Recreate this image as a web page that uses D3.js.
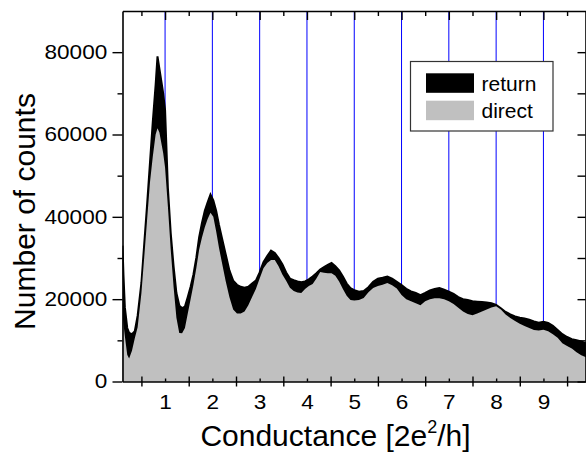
<!DOCTYPE html>
<html><head><meta charset="utf-8">
<script src="https://cdn.jsdelivr.net/npm/d3@7"></script>
<style>html,body{margin:0;padding:0;background:#fff;} svg{display:block;font-family:"Liberation Sans",Arial,sans-serif;}</style>
</head><body><svg id="c" width="586" height="454"></svg>
<script>
const conductance = [0.10,0.12,0.15,0.20,0.24,0.30,0.36,0.42,0.50,0.56,0.62,0.68,0.74,0.80,0.84,0.88,0.92,0.96,1.00,1.06,1.12,1.18,1.24,1.30,1.36,1.42,1.48,1.54,1.60,1.66,1.72,1.78,1.84,1.90,1.96,2.02,2.08,2.14,2.20,2.28,2.36,2.44,2.52,2.60,2.68,2.76,2.84,2.92,3.00,3.08,3.16,3.24,3.32,3.40,3.48,3.56,3.64,3.72,3.80,3.88,3.96,4.04,4.12,4.20,4.28,4.36,4.44,4.52,4.60,4.68,4.76,4.84,4.92,5.00,5.10,5.20,5.30,5.40,5.50,5.60,5.70,5.80,5.90,6.00,6.10,6.20,6.30,6.40,6.50,6.60,6.70,6.80,6.90,7.00,7.10,7.20,7.30,7.40,7.50,7.60,7.70,7.80,7.90,8.00,8.10,8.20,8.30,8.40,8.50,8.60,8.70,8.80,8.90,9.00,9.10,9.20,9.30,9.40,9.50,9.60,9.70,9.80,9.90];
const returnCounts = [33000,26000,18000,13000,11800,11500,12200,16000,24000,33500,43000,53000,63000,72000,79000,76000,73000,70000,66000,47000,36000,28000,21500,18500,17800,18200,20500,23000,26000,30000,35000,38500,41500,43500,45400,44000,41500,38000,35000,31000,27000,24500,23500,23000,22800,23000,23800,24500,26500,29000,30500,31800,31200,30000,28500,26500,25000,24600,24300,24100,24300,24800,25500,26300,27200,27800,28300,28800,28000,27000,25500,23800,22700,22200,21800,22000,22900,24200,25000,25200,25500,25000,24200,23400,22500,21900,21500,21000,21500,22100,22500,22700,22300,21800,21300,20500,20000,19800,19500,19400,19300,19200,19000,18600,17800,16900,16300,15800,15500,15300,15000,14600,14300,14500,14200,13500,12500,11500,10800,10300,10000,9700,9300];
const directCounts = [16500,14000,11000,6500,5600,7500,10500,13200,21500,30300,39300,48300,54600,60000,61500,60500,58000,55500,52000,42500,32000,23000,15500,11800,11700,13000,16500,20000,23500,27500,32000,35000,37500,39500,41000,40000,36500,32500,29000,24500,20500,17500,16500,16500,17000,18500,20500,22500,25000,27500,28800,29500,29500,28000,26000,24500,22800,22000,21600,21500,22500,23200,23700,25000,26600,26400,26300,26300,25700,24300,22500,20800,19800,19700,19800,20300,21700,22700,23200,23500,23900,23400,22600,21000,20000,19500,19000,18500,19500,20000,20200,20200,20000,19500,18800,17900,17000,16400,16100,16500,17000,17500,18000,18300,17500,16300,15400,14700,14000,13500,13000,12500,12400,12600,12200,11500,10600,9300,8600,8000,7100,6400,5900];
const xTickLabels = [1,2,3,4,5,6,7,8,9];
const xHalfTicks = [0.5,1.5,2.5,3.5,4.5,5.5,6.5,7.5,8.5,9.5];
const yTickLabels = [0,20000,40000,60000,80000];
const yAllTicks = [0,10000,20000,30000,40000,50000,60000,70000,80000];
const seriesNames = ["return","direct"];
const seriesColors = ["#000000","#c0c0c0"];

const svg = d3.select("#c");
const L = 122.5, R = 586, T = 11, B = 381.5;
const x = d3.scaleLinear().domain([0.1, 9.9]).range([L, R]);
const y = d3.scaleLinear().domain([0, 90000]).range([B, T]);

svg.append("rect").attr("width",586).attr("height",454).attr("fill","#fff");
svg.append("defs").append("clipPath").attr("id","plot").append("rect")
  .attr("x",L).attr("y",T).attr("width",R-L).attr("height",B-T);

const plot = svg.append("g").attr("clip-path","url(#plot)");
plot.selectAll("line.grid").data(xTickLabels).join("line")
  .attr("x1",d=>x(d)).attr("x2",d=>x(d)).attr("y1",T).attr("y2",B)
  .attr("stroke","#0000ff").attr("stroke-width",1);

const data = conductance.map((c,i)=>({c, r:returnCounts[i], d:directCounts[i]}));
const areaR = d3.area().x(d=>x(d.c)).y0(y(0)).y1(d=>y(d.r));
const areaD = d3.area().x(d=>x(d.c)).y0(y(0)).y1(d=>y(d.d));
const lineR = d3.line().x(d=>x(d.c)).y(d=>y(d.r));
plot.append("path").attr("d",areaR(data)).attr("fill",seriesColors[0]);
plot.append("path").attr("d",lineR(data)).attr("fill","none").attr("stroke","#000").attr("stroke-width",2);
plot.append("path").attr("d",areaD(data)).attr("fill",seriesColors[1]);

const axisStyle = g => { g.selectAll("path.domain").attr("stroke","#000").attr("stroke-width",1.6);
  g.selectAll(".tick line").attr("stroke","#000").attr("stroke-width",1.4); };
const labelStyle = g => g.selectAll("text").attr("font-size",20).attr("fill","#000")
  .attr("font-family","Liberation Sans, Arial, sans-serif").attr("transform","scale(1.13,1)");

// bottom axis
const gb1 = svg.append("g").attr("transform",`translate(0,${B})`)
  .call(d3.axisBottom(x).tickValues(xHalfTicks).tickSize(5).tickSizeOuter(0).tickFormat(""));
gb1.selectAll(".tick line").attr("y1",-5).attr("y2",5);
axisStyle(gb1);
const gb2 = svg.append("g").attr("transform",`translate(0,${B})`)
  .call(d3.axisBottom(x).tickValues(xTickLabels).tickSize(-3).tickSizeOuter(0).tickPadding(13.5).tickFormat(d3.format("d")));
gb2.select("path.domain").remove();
axisStyle(gb2);
labelStyle(gb2);

// top axis
const gt1 = svg.append("g").attr("transform",`translate(0,${T})`)
  .call(d3.axisTop(x).tickValues(xHalfTicks).tickSize(-5).tickSizeOuter(0).tickFormat(""));
axisStyle(gt1);
const gt2 = svg.append("g").attr("transform",`translate(0,${T})`)
  .call(d3.axisTop(x).tickValues(xTickLabels).tickSize(-9).tickSizeOuter(0).tickFormat(""));
gt2.select("path.domain").remove();
axisStyle(gt2);

// left axis
const gl1 = svg.append("g").attr("transform",`translate(${L},0)`)
  .call(d3.axisLeft(y).tickValues(yAllTicks.filter(v=>!yTickLabels.includes(v))).tickSize(5).tickSizeOuter(0).tickFormat(""));
axisStyle(gl1);
const gl2 = svg.append("g").attr("transform",`translate(${L},0)`)
  .call(d3.axisLeft(y).tickValues(yTickLabels).tickSize(10).tickSizeOuter(0).tickPadding(3.5).tickFormat(d3.format("d")));
gl2.select("path.domain").remove();
axisStyle(gl2);
labelStyle(gl2);

// right axis
const gr = svg.append("g").attr("transform",`translate(${R-0.5},0)`)
  .call(d3.axisLeft(y).tickValues(yAllTicks).tickSize(8).tickSizeOuter(0).tickFormat(""));
axisStyle(gr);

// axis titles
svg.append("text").attr("transform","translate(35,211.5) rotate(-90)")
  .attr("text-anchor","middle").attr("font-size",30).attr("fill","#000").text("Number of counts");
const xt = svg.append("text").attr("x",335.5).attr("y",446).attr("text-anchor","middle")
  .attr("font-size",30).attr("fill","#000");
xt.append("tspan").text("Conductance [2e");
xt.append("tspan").attr("font-size",18).attr("dy",-13).text("2");
xt.append("tspan").attr("dy",13).text("/h]");

// legend
const lg = svg.append("g");
lg.append("rect").attr("x",410.5).attr("y",61.5).attr("width",142.5).attr("height",69.5)
  .attr("fill","#fff").attr("stroke","#333").attr("stroke-width",1.2);
seriesNames.forEach((n,i)=>{
  lg.append("rect").attr("x",426).attr("y",73.3+i*27.4).attr("width",48).attr("height",19.5).attr("fill",seriesColors[i]);
  lg.append("text").attr("x",481.5).attr("y",91+i*26.7).attr("font-size",21).attr("fill","#000").text(n);
});
</script></body></html>
